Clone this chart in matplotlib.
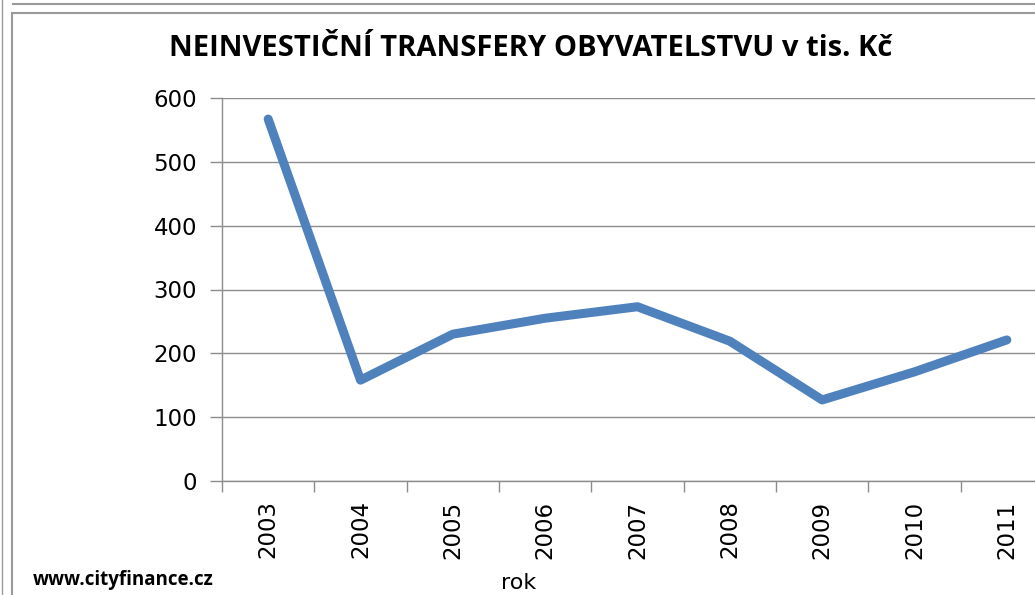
import matplotlib
matplotlib.use("Agg")
import matplotlib.pyplot as plt
from matplotlib.lines import Line2D
from matplotlib.patches import Rectangle

years = ["2003", "2004", "2005", "2006", "2007", "2008", "2009", "2010", "2011"]
values = [567, 158, 230, 255, 273, 219, 127, 171, 221]

W, H = 1035, 595
fig = plt.figure(figsize=(W / 100, H / 100), dpi=100)

# spreadsheet-ish frame lines around the chart
grey = "#9a9a9a"
fig.add_artist(Line2D([13 / W, 1], [1 - 4 / H, 1 - 4 / H], color=grey, lw=1.5))
fig.add_artist(Line2D([2 / W, 2 / W], [0, 1], color=grey, lw=1.0))
fig.add_artist(Rectangle((12 / W, -0.1), 1.1, 1 - 13 / H + 0.1, fill=False,
                         edgecolor=grey, lw=1.5))

ax = fig.add_axes([222 / W, 1 - 481 / H, (1053 - 222) / W, (481 - 98) / H])
x = list(range(len(years)))
ax.plot(x, values, color="#4F81BD", lw=6.5, solid_capstyle="round",
        solid_joinstyle="round", clip_on=False)

ax.set_xlim(-0.5, len(years) - 0.5)
ax.set_ylim(0, 600)
ax.set_yticks(range(0, 601, 100))
ax.yaxis.grid(True, color="#8c8c8c", lw=1.0)
ax.set_axisbelow(True)

ax.set_xticks([i - 0.5 for i in range(len(years) + 1)])
ax.set_xticklabels([])
ax.set_xticks(x, minor=True)
ax.set_xticklabels(years, minor=True, rotation=90, fontsize=16.5,
                   family="DejaVu Sans")
ax.tick_params(axis="x", which="minor", length=0, pad=14)
ax.tick_params(axis="x", which="major", length=8, color="#8c8c8c", width=1)
ax.tick_params(axis="y", length=9, color="#8c8c8c", width=1, labelsize=16.5,
               pad=9)

for s in ["top", "right"]:
    ax.spines[s].set_visible(False)
for s in ["left", "bottom"]:
    ax.spines[s].set_color("#8c8c8c")
    ax.spines[s].set_linewidth(1)

fig.text(531 / W, 1 - 48 / H, "NEINVESTIČNÍ TRANSFERY OBYVATELSTVU v tis. Kč",
         ha="center", va="center", fontsize=21, fontweight="bold",
         family="Open Sans")
fig.text(519 / W, 1 - 583 / H, "rok", ha="center", va="center", fontsize=16,
         family="DejaVu Sans")
fig.text(33 / W, 1 - 580 / H, "www.cityfinance.cz", ha="left", va="center",
         fontsize=13.5, fontweight="bold", family="Open Sans")

fig.savefig("out.png", dpi=100)
